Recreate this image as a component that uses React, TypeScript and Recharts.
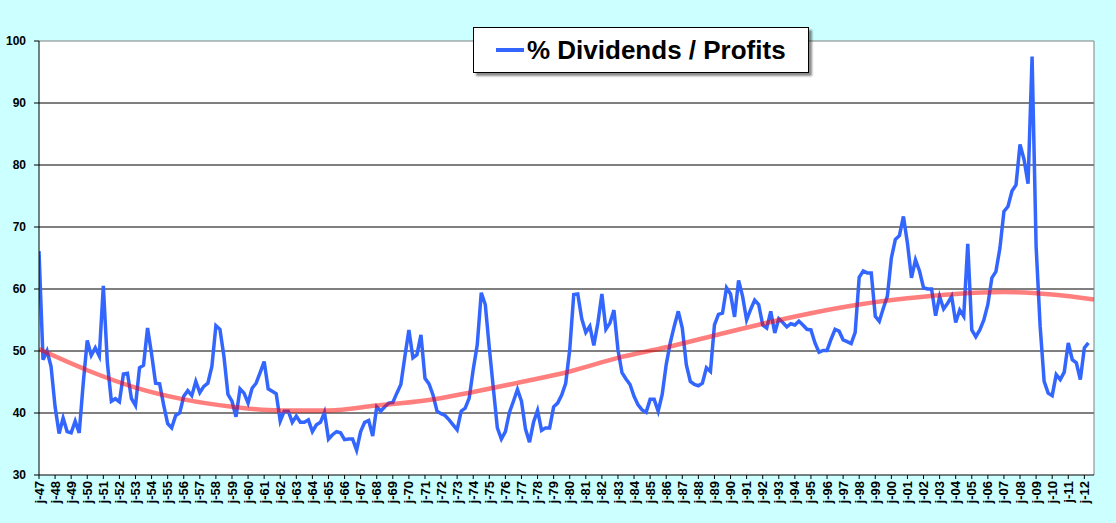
import React from 'react';
import { LineChart, Line, XAxis, YAxis, CartesianGrid, ReferenceLine } from 'recharts';

// quarterly % dividends / profits, 1947 Q1 .. 2012 Q2
const dividendsPct = [
  66.1, 48.6, 50.0, 47.5, // 47
  41.0, 36.7, 39.2, 37.0,
  36.8, 38.7, 36.8, 44.8,
  51.7, 49.3, 50.5, 49.2, // 50
  60.5, 48.1, 41.9, 42.3,
  41.8, 46.3, 46.4, 42.3,
  41.2, 47.3, 47.7, 53.7,
  49.5, 44.8, 44.7, 41.3,
  38.3, 37.6, 39.6, 40.0, // 55
  42.7, 43.6, 42.8, 45.1,
  43.3, 44.3, 44.8, 47.5,
  54.1, 53.5, 49.1, 43.0,
  41.9, 39.4, 43.9, 43.2,
  41.6, 44.0, 44.8, 46.5, // 60
  48.3, 43.9, 43.5, 43.1,
  38.7, 40.3, 40.3, 38.5,
  39.5, 38.5, 38.5, 38.9,
  37.0, 38.1, 38.5, 40.1,
  35.8, 36.5, 37.0, 36.8, // 65
  35.7, 35.8, 35.8, 34.0,
  37.0, 38.5, 38.8, 36.3,
  41.0, 40.3, 41.0, 41.6,
  41.7, 43.2, 44.6, 49.1,
  53.4, 48.9, 49.4, 52.6, // 70
  45.6, 44.7, 42.9, 40.3,
  39.9, 39.6, 38.9, 38.1,
  37.3, 40.3, 40.8, 42.4,
  47.0, 51.0, 59.4, 57.5,
  50.5, 44.0, 37.6, 35.8, // 75
  37.0, 40.1, 41.9, 43.8,
  41.9, 37.4, 35.3, 38.5,
  40.4, 37.2, 37.6, 37.6,
  41.0, 41.6, 42.9, 44.8,
  50.2, 59.1, 59.2, 55.2, // 80
  53.0, 54.0, 50.9, 54.5,
  59.2, 53.5, 54.5, 56.6,
  50.2, 46.5, 45.5, 44.6,
  42.7, 41.3, 40.5, 40.1,
  42.2, 42.2, 40.3, 43.0, // 85
  47.8, 51.3, 54.0, 56.4,
  53.7, 47.8, 45.1, 44.6,
  44.4, 44.8, 47.3, 46.7,
  54.2, 55.9, 56.1, 60.2,
  59.2, 55.5, 61.4, 58.8, // 90
  55.0, 56.7, 58.2, 57.5,
  54.2, 53.7, 56.4, 52.9,
  55.2, 54.6, 53.9, 54.4,
  54.2, 54.8, 54.2, 53.5,
  53.4, 51.3, 49.8, 50.1, // 95
  50.1, 51.9, 53.5, 53.2,
  51.8, 51.5, 51.2, 53.0,
  61.9, 62.9, 62.6, 62.6,
  55.6, 54.8, 56.9, 58.8,
  65.0, 68.0, 68.6, 71.7, // 00
  67.4, 61.8, 64.7, 62.9,
  60.2, 60.0, 60.0, 55.7,
  58.8, 56.8, 57.7, 58.8,
  54.6, 56.6, 55.6, 67.3,
  53.4, 52.3, 53.4, 55.0, // 05
  57.5, 61.8, 62.8, 66.6,
  72.5, 73.3, 75.8, 76.8,
  83.3, 80.9, 77.0, 97.5,
  66.9, 54.0, 45.1, 43.2,
  42.8, 46.2, 45.4, 46.6, // 10
  51.3, 48.6, 48.1, 45.4,
  50.5, 51.3,
];

// trend line (quarter index -> %)
const trendQuarter = [0, 12, 24, 36, 48, 60, 72, 84, 96, 108, 120, 132, 144, 156, 168, 180, 192, 204, 216, 228, 240, 252, 262.4];
const trendPct = [50.3, 46.9, 44.1, 42.2, 41.0, 40.4, 40.4, 41.2, 42.0, 43.4, 45.0, 46.7, 48.9, 50.6, 52.5, 54.4, 56.1, 57.5, 58.5, 59.2, 59.5, 59.1, 58.3];

const yearLabels = [
  'j-47', 'j-48', 'j-49', 'j-50', 'j-51', 'j-52', 'j-53', 'j-54', 'j-55', 'j-56',
  'j-57', 'j-58', 'j-59', 'j-60', 'j-61', 'j-62', 'j-63', 'j-64', 'j-65', 'j-66',
  'j-67', 'j-68', 'j-69', 'j-70', 'j-71', 'j-72', 'j-73', 'j-74', 'j-75', 'j-76',
  'j-77', 'j-78', 'j-79', 'j-80', 'j-81', 'j-82', 'j-83', 'j-84', 'j-85', 'j-86',
  'j-87', 'j-88', 'j-89', 'j-90', 'j-91', 'j-92', 'j-93', 'j-94', 'j-95', 'j-96',
  'j-97', 'j-98', 'j-99', 'j-00', 'j-01', 'j-02', 'j-03', 'j-04', 'j-05', 'j-06',
  'j-07', 'j-08', 'j-09', 'j-10', 'j-11', 'j-12',
];

const yTicks = [30, 40, 50, 60, 70, 80, 90, 100];

const FONT = 'Arial, "Liberation Sans", sans-serif';

const mainData = dividendsPct.map((v, i) => ({ i, pct: v }));
const trendData = trendQuarter.map((q, k) => ({ i: q, trend: trendPct[k] }));
const xTicks = yearLabels.map((_, k) => k * 4);

function YearTick(props: any) {
  const { x, y, payload } = props;
  return (
    <text
      x={x}
      y={y}
      dy="0.35em"
      transform={`rotate(-90, ${x}, ${y})`}
      textAnchor="end"
      fontFamily={FONT}
      fontWeight="bold"
      fontSize={13}
      fill="#000"
    >
      {yearLabels[Math.round(payload.value / 4)]}
    </text>
  );
}

export default function App() {
  return (
    <div style={{ position: 'absolute', left: 0, top: 0, width: 1116, height: 523, background: '#ccffff' }}>
      <LineChart width={1116} height={523} margin={{ top: 41, right: 22, bottom: 0, left: 0 }}>
        <CartesianGrid
          vertical={false}
          horizontalValues={[40, 50, 60, 70, 80, 90]}
          stroke="#000"
          fill="#fff"
          fillOpacity={1}
        />
        <XAxis
          type="number"
          dataKey="i"
          domain={[0, 262.4]}
          ticks={xTicks}
          interval={0}
          height={48}
          tickSize={4}
          tick={<YearTick />}
          axisLine={{ stroke: '#000' }}
          tickLine={{ stroke: '#000' }}
          allowDataOverflow
        />
        <YAxis
          domain={[30, 100]}
          ticks={yTicks}
          interval={0}
          width={39}
          tickSize={5}
          tickMargin={8}
          axisLine={{ stroke: '#000' }}
          tickLine={{ stroke: '#000' }}
          tick={{ fill: '#000', fontFamily: FONT, fontWeight: 'bold', fontSize: 12 }}
          allowDataOverflow
        />
        <ReferenceLine y={100} stroke="#808080" />
        <ReferenceLine x={262.4} stroke="#808080" />
        <Line
          data={mainData}
          dataKey="pct"
          type="linear"
          stroke="#3366ff"
          strokeWidth={3.5}
          dot={false}
          isAnimationActive={false}
        />
        <Line
          data={trendData}
          dataKey="trend"
          type="monotone"
          stroke="#ff0000"
          strokeOpacity={0.5}
          strokeWidth={4.5}
          dot={false}
          isAnimationActive={false}
        />
      </LineChart>
      <div
        style={{
          position: 'absolute',
          left: 473,
          top: 27,
          width: 334,
          height: 44,
          background: '#fff',
          border: '1px solid #000',
          boxShadow: '3px 3px 2px rgba(0,0,0,0.45)',
          display: 'flex',
          alignItems: 'center',
          fontFamily: FONT,
          fontWeight: 'bold',
          fontSize: 26,
          color: '#000',
          whiteSpace: 'nowrap',
        }}
      >
        <span style={{ display: 'inline-block', width: 28, height: 4, background: '#3366ff', marginLeft: 22, marginRight: 3 }} />
        % Dividends / Profits
      </div>
    </div>
  );
}
